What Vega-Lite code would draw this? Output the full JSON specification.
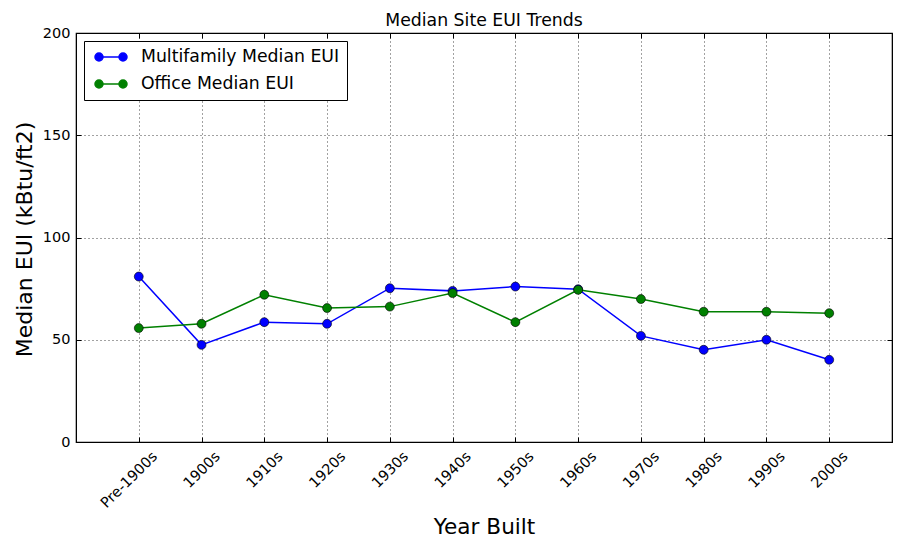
{
  "$schema": "https://vega.github.io/schema/vega-lite/v6.json",
  "width": 816,
  "height": 409,
  "autosize": {"type": "none"},
  "padding": {"left": 76, "top": 33, "right": 11, "bottom": 106},
  "background": "white",
  "title": {
    "text": "Median Site EUI Trends",
    "font": "DejaVu Sans",
    "fontSize": 17.3,
    "fontWeight": "normal",
    "color": "black",
    "anchor": "middle",
    "offset": -4
  },
  "config": {
    "view": {"stroke": "black", "strokeWidth": 1.2},
    "axis": {
      "labelFont": "DejaVu Sans",
      "titleFont": "DejaVu Sans",
      "labelColor": "black",
      "titleColor": "black",
      "titleFontWeight": "normal",
      "domainColor": "black",
      "tickColor": "black",
      "gridColor": "#444",
      "gridDash": [1, 3],
      "gridOpacity": 1,
      "gridWidth": 1
    }
  },
  "data": {
    "values": [
      {"era": "Pre-1900s", "series": "Multifamily Median EUI", "eui": 80.9},
      {"era": "1900s", "series": "Multifamily Median EUI", "eui": 47.5},
      {"era": "1910s", "series": "Multifamily Median EUI", "eui": 58.6},
      {"era": "1920s", "series": "Multifamily Median EUI", "eui": 57.8},
      {"era": "1930s", "series": "Multifamily Median EUI", "eui": 75.2},
      {"era": "1940s", "series": "Multifamily Median EUI", "eui": 73.9},
      {"era": "1950s", "series": "Multifamily Median EUI", "eui": 76.0},
      {"era": "1960s", "series": "Multifamily Median EUI", "eui": 74.7},
      {"era": "1970s", "series": "Multifamily Median EUI", "eui": 51.9},
      {"era": "1980s", "series": "Multifamily Median EUI", "eui": 45.1},
      {"era": "1990s", "series": "Multifamily Median EUI", "eui": 50.0},
      {"era": "2000s", "series": "Multifamily Median EUI", "eui": 40.2},
      {"era": "Pre-1900s", "series": "Office Median EUI", "eui": 55.7},
      {"era": "1900s", "series": "Office Median EUI", "eui": 57.8},
      {"era": "1910s", "series": "Office Median EUI", "eui": 72.0},
      {"era": "1920s", "series": "Office Median EUI", "eui": 65.5},
      {"era": "1930s", "series": "Office Median EUI", "eui": 66.2},
      {"era": "1940s", "series": "Office Median EUI", "eui": 72.8},
      {"era": "1950s", "series": "Office Median EUI", "eui": 58.6},
      {"era": "1960s", "series": "Office Median EUI", "eui": 74.4},
      {"era": "1970s", "series": "Office Median EUI", "eui": 69.9},
      {"era": "1980s", "series": "Office Median EUI", "eui": 63.7},
      {"era": "1990s", "series": "Office Median EUI", "eui": 63.7},
      {"era": "2000s", "series": "Office Median EUI", "eui": 63.0}
    ]
  },
  "layer": [
    {
      "mark": {"type": "line", "strokeWidth": 1.5},
      "encoding": {
        "x": {
          "field": "era",
          "type": "ordinal",
          "sort": ["Pre-1900s", "1900s", "1910s", "1920s", "1930s", "1940s", "1950s", "1960s", "1970s", "1980s", "1990s", "2000s"],
          "scale": {"type": "point", "padding": 1},
          "axis": {
            "orient": "bottom",
            "title": "Year Built",
            "titleFontSize": 21.6,
            "titleX": 408,
            "titleY": 91,
            "titleBaseline": "alphabetic",
            "labelAngle": -45,
            "labelAlign": "right",
            "labelBaseline": "top",
            "labelFontSize": 14.5,
            "labelOffset": 11,
            "tickSize": -5,
            "labelPadding": 12,
            "grid": true,
            "domain": true
          }
        },
        "y": {
          "field": "eui",
          "type": "quantitative",
          "scale": {"domain": [0, 200], "nice": false},
          "axis": {
            "orient": "left",
            "title": "Median EUI (kBtu/ft2)",
            "titleFontSize": 22,
            "titleX": -45,
            "titleY": 206,
            "titleAngle": -90,
            "titleBaseline": "alphabetic",
            "titleAlign": "center",
            "values": [0, 50, 100, 150, 200],
            "labelFontSize": 14.5,
            "tickSize": -5,
            "labelPadding": 11,
            "grid": true
          }
        },
        "color": {
          "field": "series",
          "type": "nominal",
          "scale": {"domain": ["Multifamily Median EUI", "Office Median EUI"], "range": ["#0000ff", "#008000"]},
          "legend": {
            "title": null,
            "orient": "top-left",
            "offset": 8,
            "padding": 7,
            "strokeColor": "black",
            "fillColor": "white",
            "cornerRadius": 0,
            "labelFont": "DejaVu Sans",
            "labelFontSize": 17.3,
            "labelColor": "black",
            "labelLimit": 0,
            "symbolType": "M-1.5,0L1.5,0M-1,0A0.5,0.5,0,1,1,-2,0A0.5,0.5,0,1,1,-1,0ZM2,0A0.5,0.5,0,1,1,1,0A0.5,0.5,0,1,1,2,0Z",
            "symbolSize": 256,
            "symbolStrokeWidth": 1.5,
            "symbolOffset": 11,
            "labelOffset": 21,
            "rowPadding": 9,
            "encode": {
              "symbols": {"update": {"fill": {"scale": "color", "field": "value"}, "fillOpacity": {"value": 1}}}
            }
          }
        }
      }
    },
    {
      "mark": {"type": "point", "filled": true, "size": 80, "stroke": "black", "strokeWidth": 0.6, "opacity": 1},
      "encoding": {
        "x": {
          "field": "era",
          "type": "ordinal",
          "sort": ["Pre-1900s", "1900s", "1910s", "1920s", "1930s", "1940s", "1950s", "1960s", "1970s", "1980s", "1990s", "2000s"],
          "scale": {"type": "point", "padding": 1},
          "axis": {"orient": "top", "title": null, "labels": false, "grid": false, "tickSize": -5, "domain": true}
        },
        "y": {
          "field": "eui",
          "type": "quantitative",
          "scale": {"domain": [0, 200], "nice": false},
          "axis": {"orient": "right", "title": null, "labels": false, "grid": false, "tickSize": -5, "values": [0, 50, 100, 150, 200]}
        },
        "color": {"field": "series", "type": "nominal", "legend": null}
      }
    }
  ],
  "resolve": {"axis": {"x": "independent", "y": "independent"}}
}
